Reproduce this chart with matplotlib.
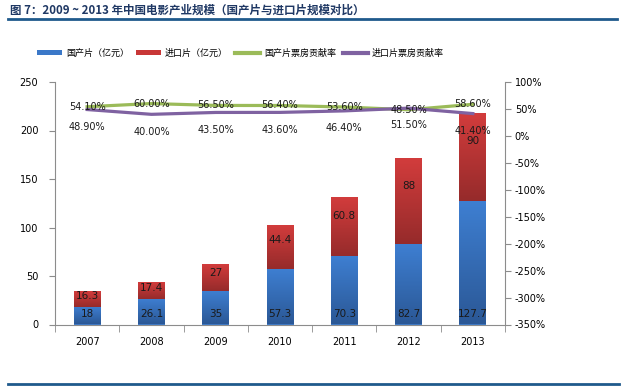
import matplotlib
matplotlib.use("Agg")
import matplotlib.pyplot as plt
import numpy as np
from matplotlib.colors import LinearSegmentedColormap
from matplotlib.patches import Patch
from matplotlib.lines import Line2D

plt.rcParams['font.family'] = ['DejaVu Sans', 'Noto Sans CJK SC']

years = ['2007', '2008', '2009', '2010', '2011', '2012', '2013']
domestic = [18, 26.1, 35, 57.3, 70.3, 82.7, 127.7]
imported = [16.3, 17.4, 27, 44.4, 60.8, 88, 90]
dom_share = [54.1, 60.0, 56.5, 56.4, 53.6, 48.5, 58.6]
imp_share = [48.9, 40.0, 43.5, 43.6, 46.4, 51.5, 41.4]
series_names = ['国产片（亿元）', '进口片（亿元）', '国产片票房贡献率', '进口片票房贡献率']
title = '图 7：2009 ~ 2013 年中国电影产业规模（国产片与进口片规模对比）'

blue_c, red_c = '#3b78c8', '#c83737'
green_c, purple_c = '#9bbb59', '#7f62a1'
axis_c = '#8c8c8c'
cjk = ['Noto Sans CJK SC', 'DejaVu Sans']

fig = plt.figure(figsize=(6.23, 3.91), dpi=100)
ax = fig.add_axes([55/623, 1-324.5/391, 450/623, 242.5/391])
x = np.arange(len(years))
w = 0.42

b1 = ax.bar(x, domestic, w, color=blue_c, zorder=2)
b2 = ax.bar(x, imported, w, bottom=domestic, color=red_c, zorder=2)

blue_cmap = LinearSegmentedColormap.from_list('b', ['#2b5896', '#3e7fd2'])
red_cmap = LinearSegmentedColormap.from_list('r', ['#962b2b', '#d23c3c'])
grad = np.linspace(0, 1, 100).reshape(-1, 1)
for bars, cm in ((b1, blue_cmap), (b2, red_cmap)):
    for p in bars:
        bx, by, bw, bh = p.get_x(), p.get_y(), p.get_width(), p.get_height()
        ax.imshow(grad, extent=[bx, bx + bw, by, by + bh], origin='lower',
                  cmap=cm, aspect='auto', zorder=2.5, interpolation='bilinear')

ax.set_xlim(-0.5, len(years) - 0.5)
ax.set_ylim(0, 250)
ax.set_yticks(np.arange(0, 251, 50))
ax.set_xticks(x)
ax.set_xticklabels(years)
ax.set_xticks(np.arange(-0.5, len(years), 1), minor=True)
ax.tick_params(axis='x', which='major', length=0, pad=9, labelsize=7)
ax.tick_params(axis='x', which='minor', length=5, color=axis_c, direction='out')
ax.tick_params(axis='y', length=4, color=axis_c, direction='out', labelsize=7, pad=8)
for s in ['top', 'right']:
    ax.spines[s].set_visible(False)
for s in ['left', 'bottom']:
    ax.spines[s].set_color(axis_c)

for i in range(len(years)):
    ax.annotate(f'{domestic[i]:g}', (x[i], 0), xytext=(0, 7.5), textcoords='offset points',
                ha='center', va='center', fontsize=7.5, color='#1a1a1a', zorder=5)
    ax.annotate(f'{imported[i]:g}', (x[i], domestic[i] + imported[i] * 0.68),
                ha='center', va='center', fontsize=7.5, color='#1a1a1a', zorder=5)

ax2 = ax.twinx()
ax2.set_ylim(-350, 100)
ax2.set_yticks(np.arange(-350, 101, 50))
ax2.set_yticklabels([f'{v}%' for v in range(-350, 101, 50)])
ax2.tick_params(axis='y', length=4, color=axis_c, direction='out', labelsize=7, pad=3)
for s in ['top', 'left', 'bottom']:
    ax2.spines[s].set_visible(False)
ax2.spines['right'].set_color(axis_c)
ax2.plot(x, dom_share, color=green_c, lw=2.3, zorder=3)
ax2.plot(x, imp_share, color=purple_c, lw=2.3, zorder=3)
for i in range(len(years)):
    ax2.annotate(f'{dom_share[i]:.2f}%', (x[i], dom_share[i]), ha='center', va='center',
                 fontsize=7, color='#1a1a1a', zorder=6)
    ax2.annotate(f'{imp_share[i]:.2f}%', (x[i], imp_share[i]), xytext=(0, -12.5),
                 textcoords='offset points', ha='center', va='center',
                 fontsize=7, color='#1a1a1a', zorder=6)

handles = [Patch(facecolor=blue_c), Patch(facecolor=red_c),
           Line2D([], [], color=green_c, lw=3), Line2D([], [], color=purple_c, lw=3)]
fig.legend(handles, series_names, loc='center', bbox_to_anchor=(0.386, 1 - 53/391),
           ncol=4, frameon=False, prop={'family': cjk, 'size': 6.5},
           handlelength=2.8, handleheight=0.55, handletextpad=0.4, columnspacing=0.8)

fig.text(10/623, 1 - 10/391, title, ha='left', va='center', fontsize=8.3,
         fontweight='bold', color='#1f3864', family=cjk)
fig.add_artist(Line2D([8/623, 617/623], [1 - 18.5/391] * 2, color='#1f5a8c', lw=2.0,
                      transform=fig.transFigure))
fig.add_artist(Line2D([8/623, 619/623], [1 - 384/391] * 2, color='#1f5a8c', lw=2.0,
                      transform=fig.transFigure))

fig.savefig('out.png', dpi=100)
